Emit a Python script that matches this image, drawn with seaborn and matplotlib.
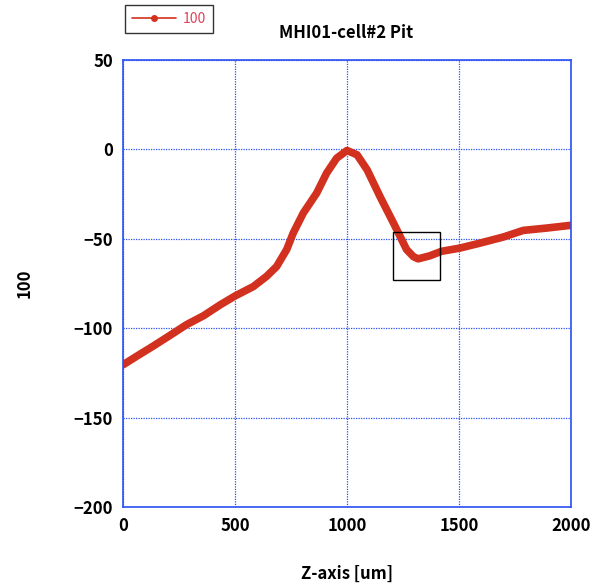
import matplotlib
matplotlib.use("Agg")
import matplotlib.pyplot as plt
import seaborn as sns
import pandas as pd
from matplotlib.patches import Rectangle
from matplotlib.lines import Line2D

# Profile along the Z axis
z_um = [0, 70, 135, 210, 284, 360, 433, 500, 582, 641, 686, 731, 760, 805, 865,
        909, 954, 1000, 1045, 1090, 1150, 1207, 1252, 1266, 1297, 1318, 1370,
        1422, 1504, 1594, 1698, 1787, 1891, 1996]
depth = [-120.5, -115, -110, -104, -98, -93, -87, -82, -76.7, -71, -65.5, -56,
         -46.8, -35.6, -24.4, -13.3, -4.9, -0.6, -3, -11.4, -27, -41, -52.4,
         -56, -60, -61.2, -59.5, -57, -55.2, -52.4, -49, -45.3, -44, -42.5]

title = "MHI01-cell#2 Pit"
series_name = "100"
x_label = "Z-axis [um]"
y_label = "100"
x_ticks = [0, 500, 1000, 1500, 2000]
y_ticks = [50, 0, -50, -100, -150, -200]

# Highlighted region around the pit minimum
box_x = (1205, 1415)
box_y = (-72.9, -46.1)

df = pd.DataFrame({"z": z_um, "v": depth})

sns.set_theme(style="white")
plt.rcParams["font.family"] = ["Noto Sans CJK JP", "DejaVu Sans"]

fig = plt.figure(figsize=(5.94, 5.86), dpi=100)
ax = fig.add_axes([0.207, 0.1348, 0.7542, 0.7628])

red = "#d2311f"
blue = "#2a50f0"

sns.lineplot(data=df, x="z", y="v", ax=ax, color=red, linewidth=5.5,
             solid_capstyle="round", solid_joinstyle="round", legend=False)

ax.add_patch(Rectangle((box_x[0], box_y[0]), box_x[1] - box_x[0],
                       box_y[1] - box_y[0], fill=False, edgecolor="black",
                       linewidth=1.0, zorder=5))

ax.set_xlim(0, 2000)
ax.set_ylim(-200, 50)
ax.set_xticks(x_ticks)
ax.set_yticks(y_ticks)
ax.set_xticklabels([str(t) for t in x_ticks], fontsize=12, fontweight="bold",
                   color="black")
ax.set_yticklabels([str(t).replace("-", "\u2212") for t in y_ticks],
                   fontsize=12, fontweight="bold", color="black")
ax.tick_params(axis="both", length=0, pad=7)

ax.grid(True, color=blue, linestyle=(0, (1, 1)), linewidth=0.9)
for sp in ax.spines.values():
    sp.set_color(blue)
    sp.set_linewidth(1.2)

ax.set_xlabel(x_label, fontsize=12, fontweight="bold", labelpad=22, color="black")
ax.set_ylabel(y_label, fontsize=12, fontweight="bold", labelpad=29, color="black")

fig.text(0.583, 0.943, title, ha="center", va="center", fontsize=12,
         fontweight="bold", color="black")

# Legend entry drawn with a small marker on the line
handle = Line2D([], [], color=red, linewidth=1.2, marker="o", markersize=4)
leg = fig.legend([handle], [series_name], loc="upper left",
                 bbox_to_anchor=(0.203, 0.999), frameon=True, fancybox=False,
                 fontsize=10, handlelength=3.2, borderpad=0.5,
                 handletextpad=0.5, borderaxespad=0.3, edgecolor="black")
leg.get_frame().set_linewidth(1.0)
for t in leg.get_texts():
    t.set_color("#e0405a")

fig.savefig("out.png", dpi=100)
